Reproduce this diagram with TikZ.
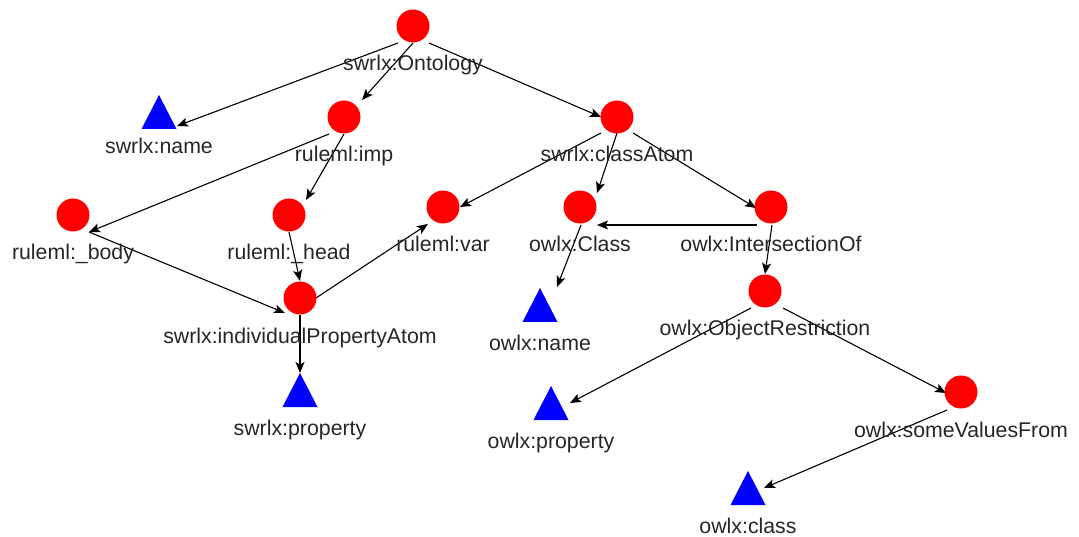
\documentclass[tikz,border=0pt]{standalone}
\usepackage{fontspec}
\setmainfont{Liberation Sans}
\usetikzlibrary{calc,arrows.meta}
\tikzset{
  circ/.style={circle,fill=red,draw=none,minimum size=33pt,inner sep=0pt},
  lab/.style={anchor=base,inner sep=0pt,font=\fontsize{21.3pt}{24pt}\selectfont,text=black!85},
  edge/.style={line width=1.1pt,-{Stealth[length=11pt,width=9pt,inset=2.5pt]}},
  tricol/.style={fill=blue}
}
\newcommand{\tri}[1]{\fill[tricol] ($(#1)+(-17.5,17)$) -- ($(#1)+(17.5,17)$) -- ($(#1)+(0,-17)$) -- cycle;}
\begin{document}
\begin{tikzpicture}[x=1pt,y=-1pt]
\useasboundingbox (0,0) rectangle (1079,537);
% node positions
\coordinate (ont) at (413,26);
\coordinate (sname) at (159,112);
\coordinate (imp) at (344,117);
\coordinate (catom) at (617,117);
\coordinate (body) at (73,215);
\coordinate (head) at (289,215);
\coordinate (var) at (443,207);
\coordinate (cls) at (580,207);
\coordinate (inter) at (771,207);
\coordinate (ipa) at (300,298);
\coordinate (objr) at (765,291);
\coordinate (sprop) at (300,390);
\coordinate (oname) at (540,305);
\coordinate (oprop) at (551,403);
\coordinate (svf) at (961,392);
\coordinate (oclass) at (748,488);
% edges
\draw[edge] ($(ont)+(-15,17)$) -- ($(sname)+(18,14)$);
\draw[edge] ($(ont)+(0,17)$) -- ($(imp)+(18,-17)$);
\draw[edge] ($(ont)+(16,17)$) -- ($(catom)+(-16,0)$);
\draw[edge] ($(imp)+(-15,17)$) -- ($(body)+(16,17)$);
\draw[edge] ($(imp)+(0,17)$) -- ($(head)+(17,-15)$);
\draw[edge] ($(body)+(16,17)$) -- ($(ipa)+(-15,15)$);
\draw[edge] ($(head)+(0,17)$) -- ($(ipa)+(0,-17)$);
\draw[edge] ($(ipa)+(16,0)$) -- ($(var)+(-15,17)$);
\draw[edge] ($(ipa)+(0,17)$) -- ($(sprop)+(0,-17)$);
\draw[edge] ($(catom)+(-16,16)$) -- ($(var)+(17,0)$);
\draw[edge] ($(catom)+(0,16)$) -- ($(cls)+(17,-14)$);
\draw[edge] ($(catom)+(16,16)$) -- ($(inter)+(-15,1)$);
\draw[edge] ($(inter)+(-14,18)$) -- ($(cls)+(17,18)$);
\draw[edge] ($(inter)+(1,18)$) -- ($(objr)+(0,-17)$);
\draw[edge] ($(cls)+(1,18)$) -- ($(oname)+(17,-18)$);
\draw[edge] ($(objr)+(-14,17)$) -- ($(oprop)+(19,0)$);
\draw[edge] ($(objr)+(18,17)$) -- ($(svf)+(-15,1)$);
\draw[edge] ($(svf)+(-14,18)$) -- ($(oclass)+(16,0)$);
% shapes
\foreach \n in {ont,imp,catom,body,head,var,cls,inter,ipa,objr,svf}{\node[circ] at (\n) {};}
\tri{sname}\tri{sprop}\tri{oname}\tri{oprop}\tri{oclass}
% labels
\node[lab] (ont-l) at ($(ont)+(0,45)$) {swrlx:Ontology};
\node[lab] (sname-l) at ($(sname)+(0,42)$) {swrlx:name};
\node[lab] (imp-l) at ($(imp)+(0,45)$) {ruleml:imp};
\node[lab] (catom-l) at ($(catom)+(0,45)$) {swrlx:classAtom};
\node[lab] (body-l) at ($(body)+(0,45)$) {ruleml:\_body};
\node[lab] (head-l) at ($(head)+(0,45)$) {ruleml:\_head};
\node[lab] (var-l) at ($(var)+(0,45)$) {ruleml:var};
\node[lab] (cls-l) at ($(cls)+(0,45)$) {owlx:Class};
\node[lab] (inter-l) at ($(inter)+(0,45)$) {owlx:IntersectionOf};
\node[lab] (ipa-l) at ($(ipa)+(0,45)$) {swrlx:individualPropertyAtom};
\node[lab] (objr-l) at ($(objr)+(0,45)$) {owlx:ObjectRestriction};
\node[lab] (sprop-l) at ($(sprop)+(0,45)$) {swrlx:property};
\node[lab] (oname-l) at ($(oname)+(0,45)$) {owlx:name};
\node[lab] (oprop-l) at ($(oprop)+(0,45)$) {owlx:property};
\node[lab] (svf-l) at ($(svf)+(0,45)$) {owlx:someValuesFrom};
\node[lab] (oclass-l) at ($(oclass)+(0,45)$) {owlx:class};
\end{tikzpicture}
\end{document}
